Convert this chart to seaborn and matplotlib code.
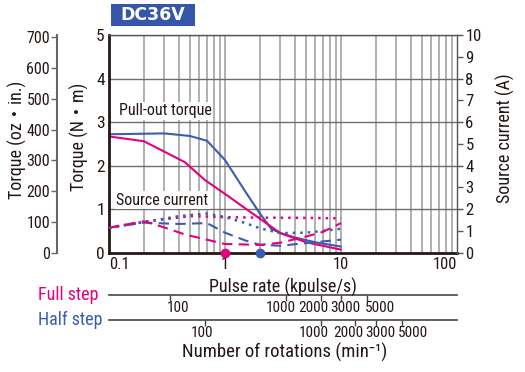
import numpy as np
import pandas as pd
import matplotlib
matplotlib.use("Agg")
import matplotlib.pyplot as plt
import matplotlib.transforms as mtransforms
import seaborn as sns
from matplotlib.patches import Rectangle
from matplotlib.ticker import NullLocator, FixedLocator
from matplotlib import font_manager

# pull-out torque (N·m) vs pulse rate (kpulse/s)
half_torque_x = [0.1, 0.3, 0.5, 0.7, 1.0, 1.5, 2.0, 2.5, 3.0, 4.0, 6.0, 10.0]
half_torque_y = [2.72, 2.74, 2.68, 2.57, 2.13, 1.40, 0.90, 0.55, 0.45, 0.35, 0.24, 0.14]
full_torque_x = [0.1, 0.2, 0.45, 0.67, 1.0, 2.0, 3.0, 5.0, 10.0]
full_torque_y = [2.67, 2.56, 2.08, 1.67, 1.35, 0.78, 0.45, 0.24, 0.07]

# source current (A)
full_cur_dot_x = [0.1, 0.2, 0.5, 0.7, 1.0, 2.0, 5.0, 10.0]
full_cur_dot_y = [1.15, 1.42, 1.68, 1.66, 1.63, 1.61, 1.60, 1.58]
half_cur_dot_x = [0.1, 0.2, 0.4, 0.7, 1.0, 1.5, 2.0, 3.0, 5.0, 7.0, 10.0]
half_cur_dot_y = [1.15, 1.40, 1.68, 1.80, 1.64, 1.36, 1.12, 0.90, 0.92, 1.00, 1.10]
half_cur_dash_x = [0.1, 0.2, 0.4, 0.7, 1.0, 1.5, 2.0, 3.0, 5.0, 10.0]
half_cur_dash_y = [1.15, 1.38, 1.32, 1.36, 0.92, 0.56, 0.36, 0.32, 0.44, 0.60]
full_cur_dash_x = [0.1, 0.2, 0.3, 0.45, 0.67, 1.0, 2.0, 3.0, 5.0, 7.0, 10.0]
full_cur_dash_y = [1.15, 1.44, 1.16, 0.84, 0.62, 0.40, 0.36, 0.46, 0.74, 0.96, 1.36]

# max starting pulse rate dots
dot_x = [1.0, 2.0]

rpm_ticks = [100, 1000, 2000, 3000, 5000]
full_label_shift = [8, -5, -7, 4, 13]    # px nudges of rpm labels as drawn in the catalogue
half_label_shift = [-3, -7, -7, 4, 11]
oz_ticks = [0, 100, 200, 300, 400, 500, 600, 700]
nm_ticks = [0, 1, 2, 3, 4, 5]
amp_ticks = list(range(11))
x_ticks = [0.1, 1, 10, 100]
x_labels = ["0.1", "1", "10", "100"]

MAG = "#e4007f"
BLU = "#3a5daf"
TXT = "#231815"

sns.set_style("white")
names = {f.name for f in font_manager.fontManager.ttflist}
narrow = [n for n in ("Roboto Condensed", "Liberation Sans Narrow", "DejaVu Sans Condensed") if n in names]
plt.rcParams["font.family"] = narrow + ["DejaVu Sans", "Noto Sans CJK JP"]
plt.rcParams["font.stretch"] = "condensed"
plt.rcParams["text.color"] = TXT
plt.rcParams["axes.labelcolor"] = TXT
plt.rcParams["xtick.color"] = TXT
plt.rcParams["ytick.color"] = TXT

fig = plt.figure(figsize=(5.25, 3.72), dpi=100)
ax = fig.add_axes([109 / 525, 1 - 252.7 / 372, 348 / 525, 217.7 / 372])

ax.set_xscale("log")
ax.set_xlim(0.1, 100)
ax.set_ylim(0, 5)

# grid
grid_x = [m * 10.0 ** e for e in (-1, 0, 1) for m in range(1, 10)]
for gx in grid_x:
    ax.axvline(gx, color="#aaaaaa", lw=1.3, zorder=0)
for gy in nm_ticks[1:]:
    ax.axhline(gy, color="#6e6e6e", lw=1.0, zorder=0.5)

sns.lineplot(x=half_torque_x, y=half_torque_y, ax=ax, color=BLU, lw=1.5)
sns.lineplot(x=full_torque_x, y=full_torque_y, ax=ax, color=MAG, lw=1.5)

ax.set_xticks(x_ticks)
ax.set_xticklabels(x_labels)
ax.xaxis.set_minor_locator(NullLocator())
ax.set_yticks(nm_ticks)
ax.tick_params(axis="y", length=0, labelsize=12.5, pad=3)
ax.tick_params(axis="x", length=0, labelsize=12, pad=3)
# end labels sit inside the axis span, clear of the y-axis zeros
xtl = ax.get_xticklabels()
xtl[0].set_horizontalalignment("left")
xtl[-1].set_horizontalalignment("right")
for s in ("left", "bottom"):
    ax.spines[s].set_linewidth(2)
    ax.spines[s].set_color(TXT)
ax.spines["top"].set_color("#555555")
ax.spines["top"].set_linewidth(1)
ax.spines["right"].set_visible(False)

ax.text(0.122, 3.26, "Pull-out torque", fontsize=11.5, va="center", ha="left",
        bbox=dict(facecolor="white", edgecolor="none", pad=1), zorder=3)
ax.text(0.115, 1.21, "Source current", fontsize=11.5, va="center", ha="left",
        bbox=dict(facecolor="white", edgecolor="none", pad=1), zorder=3)

ax.plot(dot_x[0], 0, "o", color=MAG, ms=6, clip_on=False, zorder=10)
ax.plot(dot_x[1], 0, "o", color=BLU, ms=6, clip_on=False, zorder=10)

# current axis
ax_r = ax.twinx()
ax_r.set_ylim(0, 10)
sns.lineplot(x=full_cur_dot_x, y=full_cur_dot_y, ax=ax_r, color=MAG, lw=1.8, linestyle=(0, (1, 2)))
sns.lineplot(x=half_cur_dot_x, y=half_cur_dot_y, ax=ax_r, color=BLU, lw=1.8, linestyle=(0, (1, 2)))
sns.lineplot(x=half_cur_dash_x, y=half_cur_dash_y, ax=ax_r, color=BLU, lw=1.5, linestyle=(0, (5, 3)))
sns.lineplot(x=full_cur_dash_x, y=full_cur_dash_y, ax=ax_r, color=MAG, lw=1.5, linestyle=(0, (5, 3)))
ax_r.set_yticks(amp_ticks)
ax_r.tick_params(axis="y", direction="out", length=4, width=1, labelsize=12, pad=2, color="#555555")
for s in ("left", "bottom", "top"):
    ax_r.spines[s].set_visible(False)
ax_r.spines["right"].set_color("#555555")
ax_r.spines["right"].set_linewidth(1)
ax_r.set_ylabel("")

# oz-in axis
ax_oz = ax.twinx()
ax_oz.set_ylim(0, 5 * 141.6)
ax_oz.spines["left"].set_position(("axes", -52 / 348))
ax_oz.spines["left"].set_visible(True)
ax_oz.spines["left"].set_color("#666666")
ax_oz.spines["left"].set_linewidth(1.5)
for s in ("right", "bottom", "top"):
    ax_oz.spines[s].set_visible(False)
ax_oz.yaxis.set_ticks_position("left")
ax_oz.set_yticks(oz_ticks)
ax_oz.tick_params(axis="y", direction="out", length=4, width=1, labelsize=11.5, pad=1, color="#666666")

# rotation axes (full step: 200 pulses/rev, half step: 400 pulses/rev)
for loc, per_kpps, shifts in ((-0.194, 300.0, full_label_shift), (-0.309, 150.0, half_label_shift)):
    sec = ax.secondary_xaxis(loc, functions=(lambda x, k=per_kpps: x * k, lambda r, k=per_kpps: r / k))
    sec.xaxis.set_major_locator(FixedLocator(rpm_ticks))
    sec.set_xticklabels([])
    sec.xaxis.set_minor_locator(NullLocator())
    sec.tick_params(axis="x", direction="out", length=4, width=1, color="#444444")
    sec.spines["bottom"].set_color("#444444")
    sec.spines["bottom"].set_linewidth(1.2)
    for r, dx in zip(rpm_ticks, shifts):
        tr = mtransforms.offset_copy(ax.get_xaxis_transform(), fig=fig, x=dx, y=-6, units="dots")
        ax.text(r / per_kpps, loc, str(r), transform=tr, fontsize=11, ha="center", va="top")

fig.text(283 / 525, 1 - 287 / 372, "Pulse rate (kpulse/s)", fontsize=13, ha="center", va="center")
fig.text(98 / 525, 1 - 295 / 372, "Full step", color=MAG, fontsize=13, ha="right", va="center")
fig.text(102 / 525, 1 - 320 / 372, "Half step", color=BLU, fontsize=13, ha="right", va="center")
fig.text(285 / 525, 1 - 352 / 372, "Number of rotations (min⁻¹)", fontsize=13.5, ha="center", va="center")

fig.text(17 / 525, 1 - 140 / 372, "Torque (oz・in.)", fontsize=13, rotation=90, ha="center", va="center")
fig.text(79 / 525, 1 - 137 / 372, "Torque (N・m)", fontsize=13, rotation=90, ha="center", va="center")
fig.text(505 / 525, 1 - 138 / 372, "Source current (A)", fontsize=13, rotation=90, ha="center", va="center")

# title box
fig.patches.append(Rectangle((111 / 525, 1 - 26 / 372), 84 / 525, 22 / 372,
                             transform=fig.transFigure, facecolor="#3656aa", edgecolor="none"))
fig.text(153 / 525, 1 - 15 / 372, "DC36V", color="white", fontsize=12.5, fontweight="bold",
         ha="center", va="center", family=["DejaVu Sans"], fontstretch="normal")

fig.savefig("out.png", dpi=100)
